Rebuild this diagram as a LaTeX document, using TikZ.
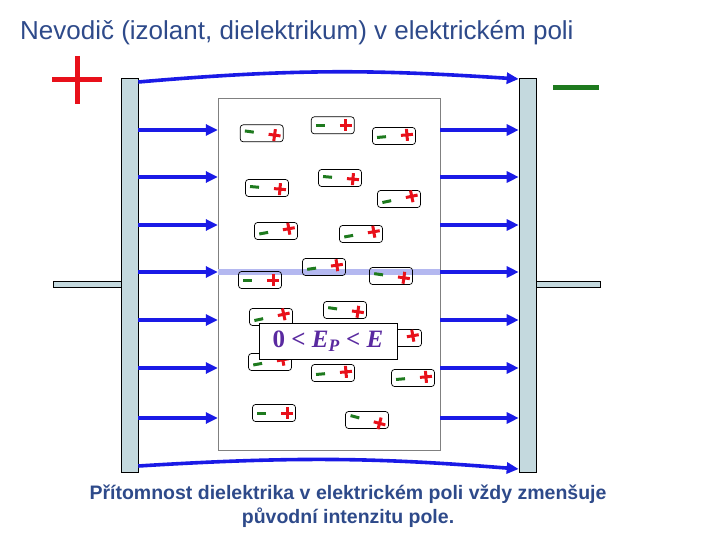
\documentclass[tikz,border=0pt]{standalone}
\usepackage{fontspec}
\setmainfont{Liberation Sans}
\newfontfamily\seriffont{Liberation Serif}
\usetikzlibrary{arrows.meta}
\definecolor{plate}{HTML}{C4D9DE}
\definecolor{fld}{HTML}{1A1AE6}
\definecolor{lfld}{HTML}{B4B8F0}
\definecolor{gr}{HTML}{1E7A1E}
\definecolor{rd}{HTML}{E8101A}
\definecolor{ttl}{HTML}{2E4A8A}
\definecolor{lab}{HTML}{5A2AA0}
\tikzset{
 platebox/.style={draw=black,fill=plate,line width=0.6pt},
 fieldarrow/.style={draw=fld,line width=3.6pt,-{Triangle[length=12pt,width=11pt]}},
 dipole/.style={draw=black,rounded corners=3pt,minimum width=43pt,minimum height=17pt,inner sep=0pt,line width=0.7pt},
 minussign/.style={draw=gr,line width=3pt},
 plussign/.style={draw=rd,line width=3pt},
}
\begin{document}
\begin{tikzpicture}[x=1pt,y=-1pt]
\useasboundingbox (0,0) rectangle (720,540);
\node[text=ttl,font=\fontsize{26}{30}\selectfont,anchor=west,inner sep=0pt] (title) at (20,33) {Nevodič (izolant, dielektrikum) v elektrickém poli};
\draw[rd,line width=5pt] (52,80)--(102,80) (77,56)--(77,104);
\draw[gr,line width=5pt] (553,88)--(599,88);
% stubs
\node[platebox,minimum width=68pt,minimum height=6pt,inner sep=0pt] (ls) at (87,284) {};
\node[platebox,minimum width=64pt,minimum height=6pt,inner sep=0pt] (rs) at (568,284) {};
% plates
\node[platebox,minimum width=17pt,minimum height=394pt,inner sep=0pt] (lp) at (129.5,275) {};
\node[platebox,minimum width=17pt,minimum height=394pt,inner sep=0pt] (rp) at (527.5,275) {};
% dielectric
\node[draw=gray,fill=white,minimum width=222pt,minimum height=352pt,inner sep=0pt] (die) at (329,274) {};
% curved field lines
\draw[fieldarrow] (lp.east |- 0,82) .. controls (300,68) and (380,70) .. (rp.west |- 0,79);
\draw[fieldarrow] (lp.east |- 0,466) .. controls (300,456) and (380,458) .. (rp.west |- 0,469);
\foreach \y in {130,177,225,272,320,368,418}{
 \draw[fieldarrow] (lp.east |- 0,\y) -- (die.west |- 0,\y);
 \draw[fieldarrow] (die.east |- 0,\y) -- (rp.west |- 0,\y);
}
\draw[lfld,line width=6pt] (die.west |- 0,272) -- (die.east |- 0,272);
% dipoles
\foreach \x/\y/\a [count=\i] in {
 261.7/133.3/-8, 332.8/125.3/0, 394/136/5, 340/178/-5, 267/188/-5, 399/199/12,
 276/231/10, 361/234/10, 324/267/8, 260/280/0, 391/276/-8, 271/317/12,
 345/310/-8, 400/338/10, 270/362/10, 333/373/5, 413/378/5, 274/413/0, 367/420/-15}{
 \begin{scope}[shift={(\x,\y)},rotate=\a]
  \node[dipole] (d\i) at (0,0) {};
  \draw[minussign] (-17,0)--(-8,0);
  \draw[plussign] (7,0)--(19,0) (13,-6)--(13,6);
 \end{scope}
}
\node[draw=black,fill=white,minimum width=138pt,minimum height=36pt,inner sep=0pt,text=lab,font=\seriffont\bfseries\fontsize{25}{27}\selectfont] (lbl) at (328,341) {0 < \textit{E\textsubscript{P}} < \textit{E}};
\node[text=ttl,font=\bfseries\fontsize{19.5}{24}\selectfont,align=center] (cap) at (348,506) {Přítomnost dielektrika v elektrickém poli vždy zmenšuje\\původní intenzitu pole.};
\end{tikzpicture}
\end{document}
